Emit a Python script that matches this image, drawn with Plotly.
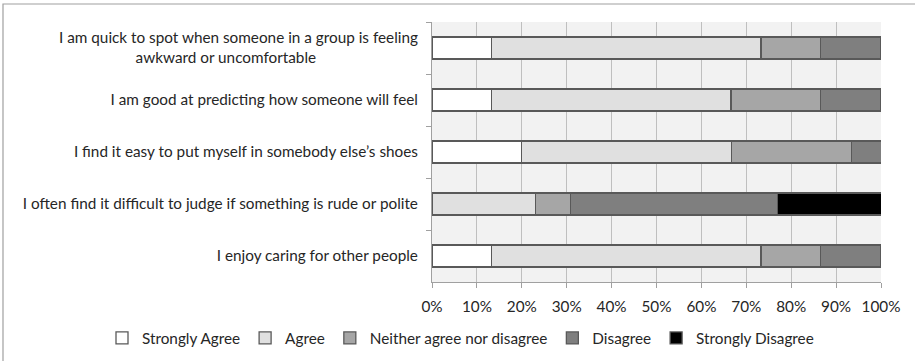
import plotly.graph_objects as go

NB = "\u00a0"
statements = [
    "I am quick to spot when someone in a group is feeling<br>awkward or uncomfortable" + NB * 26,
    "I am good at predicting how someone will feel",
    "I find it easy to put myself in somebody else\u2019s shoes",
    "I often find it difficult to judge if something is rude or polite",
    "I enjoy caring for other people",
]
series_names = ["Strongly Agree", "Agree", "Neither agree nor disagree", "Disagree", "Strongly Disagree"]
strongly_agree = [13.3, 13.3, 20.0, 0.0, 13.3]
agree = [60.0, 53.3, 46.7, 23.1, 60.0]
neither = [13.3, 20.0, 26.7, 7.7, 13.3]
disagree = [13.3, 13.3, 6.7, 46.2, 13.3]
strongly_disagree = [0.0, 0.0, 0.0, 23.1, 0.0]
x_ticks = [0, 10, 20, 30, 40, 50, 60, 70, 80, 90, 100]

colors = ["#ffffff", "#e0e0e0", "#a6a6a6", "#7f7f7f", "#000000"]
values = [strongly_agree, agree, neither, disagree, strongly_disagree]

W, H = 915, 361
L, R, T, B = 432, 34, 22, 79
pw, ph = W - L - R, H - T - B

fig = go.Figure()
for name, vals, col in zip(series_names, values, colors):
    fig.add_trace(go.Bar(
        y=statements, x=vals, name=name, orientation="h",
        marker=dict(color=col, line=dict(color="#595959", width=1.3)),
    ))

font = dict(family="Lato, 'Open Sans', sans-serif", size=15.3, color="#262626")

fig.update_layout(
    width=W, height=H,
    barmode="stack", bargap=0.58,
    margin=dict(l=L, r=R, t=T, b=B, autoexpand=False),
    paper_bgcolor="#ffffff", plot_bgcolor="#f2f2f2",
    font=font,
    xaxis=dict(
        range=[0, 100], tickvals=x_ticks, ticktext=[f"{v}%" for v in x_ticks],
        showgrid=True, gridcolor="#bfbfbf", gridwidth=1,
        showline=True, linecolor="#a0a0a0", linewidth=1,
        ticks="outside", ticklen=5, tickcolor="#a0a0a0",
        zeroline=False, ticklabelstandoff=6,
    ),
    yaxis=dict(
        autorange="reversed", categoryorder="array", categoryarray=statements,
        showline=True, linecolor="#a0a0a0", linewidth=1,
        ticks="outside", ticklen=5, tickcolor="#a0a0a0", tickson="boundaries",
        showgrid=False, ticklabelstandoff=10,
    ),
    legend=dict(
        orientation="h",
        x=(102 - L) / pw, xanchor="left",
        y=(H - B - 338) / ph, yanchor="middle",
        traceorder="normal", font=dict(size=15.3, color="#262626"),
        itemwidth=30, bgcolor="rgba(0,0,0,0)",
    ),
    showlegend=True,
)

# outer chart border
fig.add_shape(
    type="rect", xref="paper", yref="paper",
    x0=(3 - L) / pw, x1=(W + 5 - L) / pw,
    y0=(H - B - (H + 5)) / ph, y1=(H - B - 4) / ph,
    line=dict(color="#a0a0a0", width=1.2), fillcolor="rgba(0,0,0,0)", layer="below",
)

fig.write_html("out.html")
